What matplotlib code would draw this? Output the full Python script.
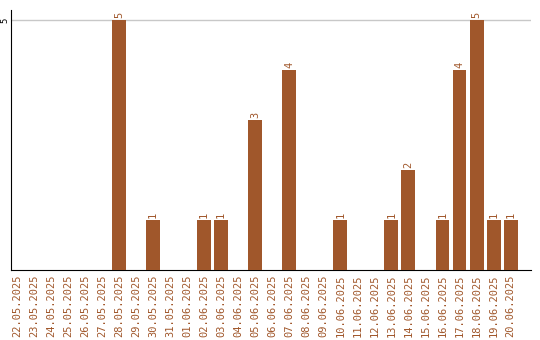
import matplotlib
matplotlib.use("Agg")
import matplotlib.pyplot as plt
import numpy as np

dates = ["22.05.2025", "23.05.2025", "24.05.2025", "25.05.2025", "26.05.2025",
         "27.05.2025", "28.05.2025", "29.05.2025", "30.05.2025", "31.05.2025",
         "01.06.2025", "02.06.2025", "03.06.2025", "04.06.2025", "05.06.2025",
         "06.06.2025", "07.06.2025", "08.06.2025", "09.06.2025", "10.06.2025",
         "11.06.2025", "12.06.2025", "13.06.2025", "14.06.2025", "15.06.2025",
         "16.06.2025", "17.06.2025", "18.06.2025", "19.06.2025", "20.06.2025"]
values = [0, 0, 0, 0, 0, 0, 5, 0, 1, 0,
          0, 1, 1, 0, 3, 0, 4, 0, 0, 1,
          0, 0, 1, 2, 0, 1, 4, 5, 1, 1]

color = "#A0572B"
fig = plt.figure(figsize=(5.4, 3.4), dpi=100)
ax = fig.add_axes([11/540, 70/340, 520/540, 260/340])
x = np.arange(len(dates))
ax.bar(x, values, width=0.82, color=color, zorder=3)
for xi, v in zip(x, values):
    if v > 0:
        ax.text(xi, v + 0.04, str(v), rotation=90, ha="center", va="bottom",
                color=color, fontsize=7.5, family="DejaVu Sans Mono")
ax.set_xlim(-0.35, 30.2)
ax.set_ylim(0, 5.2)
ax.set_xticks(x)
ax.set_xticklabels(dates, rotation=90, color=color, fontsize=7.5, family="DejaVu Sans Mono")
ax.set_yticks([5])
ax.set_yticklabels(["5"], rotation=90, va="center", fontsize=6.5, family="DejaVu Sans Mono")
ax.tick_params(axis="x", length=0, pad=3)
ax.tick_params(axis="y", length=0, pad=1)
ax.axhline(5, color="#c8c8c8", lw=1, zorder=1)
for s in ["top", "right"]:
    ax.spines[s].set_visible(False)
ax.spines["left"].set_color("black")
ax.spines["bottom"].set_color("black")
fig.savefig("out.png", dpi=100)
